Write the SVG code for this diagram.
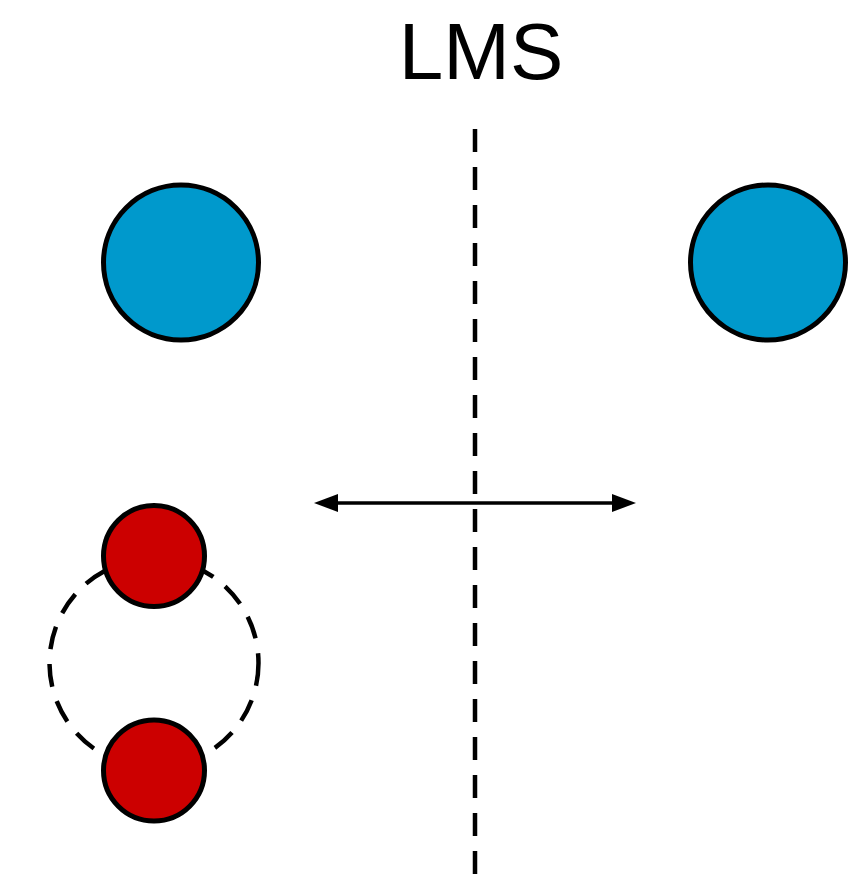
<svg xmlns="http://www.w3.org/2000/svg" width="867" height="874" viewBox="0 0 867 874">
  <defs>
    <marker id="arrowhead" viewBox="0 0 24 18" refX="0" refY="9" markerWidth="24" markerHeight="18" markerUnits="userSpaceOnUse" orient="auto-start-reverse">
      <path d="M0,0 L24,9 L0,18 Z" fill="#000"/>
    </marker>
    <style>
      .title { font-family: "Liberation Sans", Arial, sans-serif; font-size: 80px; fill: #000; }
      .blue { fill: #0099CC; stroke: #000; stroke-width: 5; }
      .red { fill: #CC0000; stroke: #000; stroke-width: 5; }
      .dash { fill: none; stroke: #000; stroke-width: 4.5; stroke-dasharray: 23 15; }
      .arrow { stroke: #000; stroke-width: 3.5; fill: none; }
    </style>
  </defs>
  <rect width="867" height="874" fill="#fff"/>

  <text class="title" x="481" y="79" text-anchor="middle">LMS</text>

  <g id="connectors">
    <line class="dash" x1="475" y1="129" x2="475" y2="874"/>
    <line class="arrow" x1="338" y1="503" x2="612" y2="503" marker-start="url(#arrowhead)" marker-end="url(#arrowhead)"/>
  </g>

  <g id="ring">
    <circle class="dash" cx="154" cy="663" r="104.5" stroke-dasharray="22 14"/>
  </g>

  <g id="blue-left">
    <circle class="blue" cx="181" cy="262.5" r="77.5"/>
  </g>
  <g id="blue-right">
    <circle class="blue" cx="768" cy="262.5" r="77.5"/>
  </g>

  <g id="red-top">
    <circle class="red" cx="154" cy="556" r="50.5"/>
  </g>
  <g id="red-bottom">
    <circle class="red" cx="154" cy="770.5" r="50.5"/>
  </g>
</svg>
